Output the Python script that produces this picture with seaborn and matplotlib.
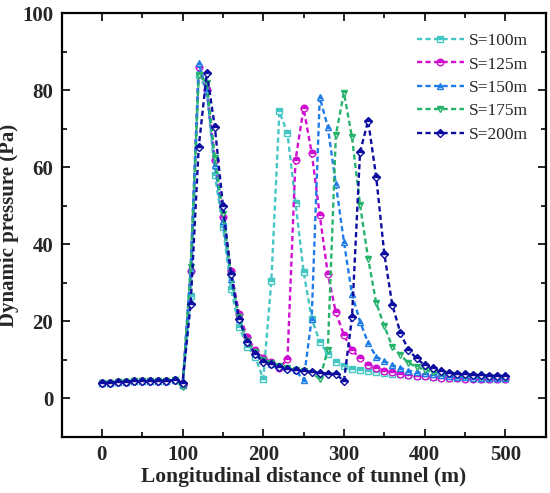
import numpy as np
import pandas as pd
import matplotlib
matplotlib.use('Agg')
import matplotlib.pyplot as plt
import seaborn as sns
from matplotlib.ticker import MultipleLocator

# distancia ao longo do tunel (m)
x = list(range(0, 510, 10))

start = [4.0, 4.1, 4.2, 4.3, 4.4, 4.4, 4.5, 4.5, 4.6, 4.7]

s100 = start + [3.5, 26.5, 84, 80, 58, 44.5, 28.4, 18.6, 13.4, 10.8,
                5.0, 30.5, 74.5, 68.8, 50.8, 32.9, 20.7, 14.7, 11.5, 9.5,
                8.4, 7.6, 7.3, 7.0, 6.8, 6.6, 6.4, 6.2, 6.0, 5.9,
                5.7, 5.6, 5.5, 5.4, 5.3, 5.2, 5.2, 5.1, 5.1, 5.0, 5.0]
s125 = start + [3.5, 33, 86, 80, 62, 47, 33, 22, 16, 12.5,
                10.5, 9.3, 8.0, 10.1, 61.9, 75.3, 63.8, 47.6, 32.3, 22.3,
                16.4, 12.5, 10.4, 8.6, 7.8, 7.2, 6.8, 6.4, 6.1, 5.9,
                5.7, 5.5, 5.4, 5.3, 5.2, 5.1, 5.0, 5.0, 4.9, 4.9, 4.9]
s150 = start + [3.5, 33.7, 87, 80, 60.6, 46, 31, 20.5, 14.8, 11.8,
                10, 9, 8.3, 7.8, 7.3, 4.7, 20.7, 78.2, 70.5, 55.6,
                40.6, 27, 19.9, 14.4, 10.8, 9.7, 8.6, 7.9, 7.2, 6.8,
                6.5, 6.2, 6.0, 5.8, 5.6, 5.5, 5.4, 5.3, 5.3, 5.2, 5.2]
s175 = start + [3.0, 34, 84, 82, 62.3, 48, 32, 21, 15, 12,
                10, 9.2, 8.5, 7.9, 7.4, 7.0, 6.7, 5.0, 12.5, 68.4,
                79.4, 67.8, 50.2, 36.3, 24.8, 18.8, 13.4, 11.2, 9.2, 8.2,
                7.4, 6.9, 6.5, 6.2, 6.0, 5.8, 5.7, 5.6, 5.5, 5.5, 5.4]
s200 = start + [4.1, 24.5, 65.3, 84.4, 70.4, 50, 32.3, 20.7, 14.7, 11.5,
                9.5, 8.8, 8.1, 7.6, 7.3, 7.1, 6.9, 6.6, 6.4, 6.3,
                4.5, 21, 64, 72.1, 57.5, 37.6, 24.2, 17, 12.5, 10.4,
                8.6, 7.8, 7.0, 6.7, 6.4, 6.2, 6.1, 6.0, 5.9, 5.8, 5.8]

labels = ['S=100m', 'S=125m', 'S=150m', 'S=175m', 'S=200m']
series = [s100, s125, s150, s175, s200]
cores = ['#45C6C2', '#D010D0', '#1E7BE8', '#27B36B', '#0C0CA0']
marcadores = ['s', 'o', '^', 'v', 'D']

sns.set_theme(style='ticks')
plt.rcParams['font.family'] = ['Liberation Serif', 'DejaVu Serif']

fig = plt.figure(figsize=(5.5, 4.93), dpi=100)
ax = fig.add_axes([0.112, 0.114, 0.88, 0.859])

for nome, ys, cor, mk in zip(labels, series, cores, marcadores):
    df = pd.DataFrame({'x': x, 'y': ys})
    sns.lineplot(data=df, x='x', y='y', ax=ax, color=cor, label=nome,
                 linestyle=(0, (2.2, 1.4)), linewidth=1.7,
                 marker=mk, markersize=4.8 if mk != 'D' else 4.2,
                 fillstyle='top', markerfacecoloralt='white',
                 markeredgecolor=cor, markeredgewidth=1.0)

ax.set_xlim(-50, 550)
ax.set_ylim(-10, 100)
ax.xaxis.set_major_locator(MultipleLocator(100))
ax.xaxis.set_minor_locator(MultipleLocator(50))
ax.yaxis.set_major_locator(MultipleLocator(20))
ax.yaxis.set_minor_locator(MultipleLocator(10))
ax.set_xticks([0, 100, 200, 300, 400, 500])
ax.tick_params(which='both', direction='in', top=True, right=True, width=1.4)
ax.tick_params(which='major', length=6, labelsize=15, pad=6)
ax.tick_params(which='minor', length=3.5)
for lab in ax.get_xticklabels() + ax.get_yticklabels():
    lab.set_fontweight('bold')
for sp in ax.spines.values():
    sp.set_linewidth(1.6)
    sp.set_color('black')

ax.set_xlabel('Longitudinal distance of tunnel (m)', fontsize=15.5, fontweight='bold', labelpad=1)
ax.set_ylabel('Dynamic pressure (Pa)', fontsize=15, fontweight='bold', labelpad=2)

leg = ax.legend(loc='upper right', frameon=False, fontsize=12.5, handlelength=2.7,
                labelspacing=0.42, handletextpad=0.3, borderaxespad=0.0,
                bbox_to_anchor=(0.978, 0.97))

fig.savefig('out.png', dpi=100)
